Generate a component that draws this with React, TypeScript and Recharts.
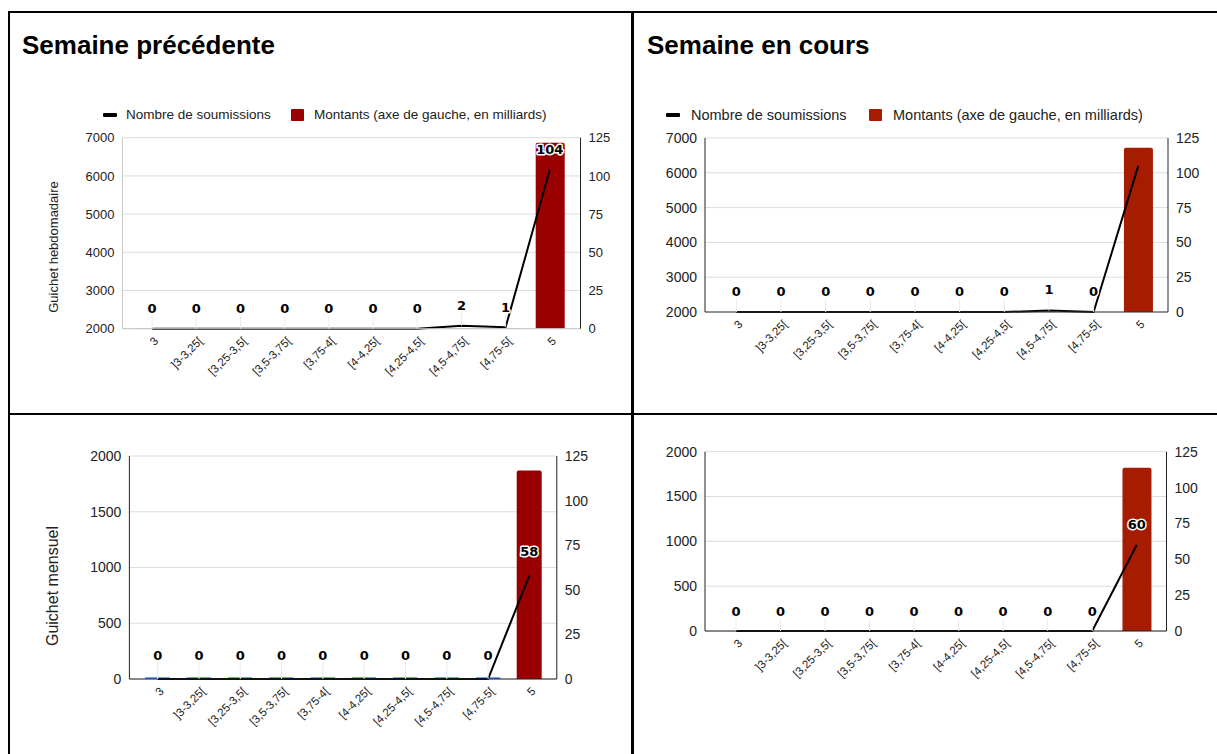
import React from "react";
import {
  ComposedChart,
  Bar,
  Line,
  XAxis,
  YAxis,
  CartesianGrid,
  Cell,
  LabelList,
} from "recharts";

// categories (taux proposés)
const categories = [
  "3",
  "]3-3,25[",
  "[3,25-3,5[",
  "[3,5-3,75[",
  "[3,75-4[",
  "[4-4,25[",
  "[4,25-4,5[",
  "[4,5-4,75[",
  "[4,75-5[",
  "5",
];

// Guichet hebdomadaire
const weekPrevCount = [0, 0, 0, 0, 0, 0, 0, 2, 1, 104];
const weekPrevAmount = [0, 0, 0, 0, 0, 0, 0, 0, 0, 6870];
const weekCurCount = [0, 0, 0, 0, 0, 0, 0, 1, 0, 105];
const weekCurAmount = [0, 0, 0, 0, 0, 0, 0, 0, 0, 6720];

// Guichet mensuel
const monthPrevCount = [0, 0, 0, 0, 0, 0, 0, 0, 0, 58];
const monthPrevAmount = [15, 15, 15, 15, 15, 15, 15, 15, 15, 1870];
const monthCurCount = [0, 0, 0, 0, 0, 0, 0, 0, 0, 60];
const monthCurAmount = [0, 0, 0, 0, 0, 0, 0, 0, 0, 1820];

const weeklyTicks = [2000, 3000, 4000, 5000, 6000, 7000];
const monthlyTicks = [0, 500, 1000, 1500, 2000];
const countTicks = [0, 25, 50, 75, 100, 125];

const legendCount = "Nombre de soumissions";
const legendAmount = "Montants (axe de gauche, en milliards)";

const FONT = "'Liberation Sans', Arial, sans-serif";

const XTick = (props: any) => {
  const { x, y, payload } = props;
  return (
    <text
      x={0}
      y={0}
      transform={`translate(${x + 7},${y + 5}) rotate(-45)`}
      textAnchor="end"
      fontSize={11.5}
      fontFamily={FONT}
      fill="#222"
    >
      {payload.value}
    </text>
  );
};

const makeLabel = (gap: number, hideLast: boolean) => (props: any) => {
  const { x, y, value, index } = props;
  const last = index === categories.length - 1;
  if (last && hideLast) return null;
  const ly = y - gap;
  return (
    <g>
      {!last && (
        <line x1={x} x2={x} y1={ly + 7} y2={y} stroke="#ececec" strokeWidth={1} />
      )}
      <text
        x={x}
        y={ly}
        textAnchor="middle"
        dominantBaseline="central"
        fontFamily="'DejaVu Sans', sans-serif"
        fontWeight="bold"
        fontSize={13}
        fill="#000"
        stroke="#fff"
        strokeWidth={3}
        strokeLinejoin="round"
        paintOrder="stroke"
      >
        {value}
      </text>
    </g>
  );
};

interface PanelProps {
  left: number;
  top: number;
  width: number;
  height: number;
  margin: { top: number; right: number; bottom: number; left: number };
  padding: { left: number; right: number };
  barSize: number;
  counts: number[];
  amounts: number[];
  leftTicks: number[];
  barColor: string;
  smallColor: string;
  labelGap: number;
  hideLast?: boolean;
  leftAxisColor: string;
  bottomAxisColor: string;
  tickFont: number;
}

function Panel(p: PanelProps) {
  const data = categories.map((c, i) => ({
    cat: c,
    count: p.counts[i],
    amount: p.amounts[i],
  }));
  const tick = { fontSize: p.tickFont, fill: "#222", fontFamily: FONT };
  return (
    <div style={{ position: "absolute", left: p.left, top: p.top }}>
      <ComposedChart width={p.width} height={p.height} data={data} margin={p.margin}>
        <CartesianGrid vertical={false} yAxisId="left" stroke="#dcdcdc" />
        <XAxis
          dataKey="cat"
          interval={0}
          tick={<XTick />}
          tickLine={false}
          height={60}
          padding={p.padding}
          stroke={p.bottomAxisColor}
        />
        <YAxis
          yAxisId="left"
          domain={[p.leftTicks[0], p.leftTicks[p.leftTicks.length - 1]]}
          ticks={p.leftTicks}
          allowDataOverflow
          width={60}
          tickLine={false}
          tick={tick}
          stroke={p.leftAxisColor}
        />
        <YAxis
          yAxisId="right"
          orientation="right"
          domain={[0, 125]}
          ticks={countTicks}
          width={40}
          tickLine={false}
          tick={tick}
          stroke="#222"
        />
        <Bar
          yAxisId="left"
          dataKey="amount"
          barSize={p.barSize}
          radius={[2, 2, 0, 0]}
          isAnimationActive={false}
        >
          {data.map((d, i) => (
            <Cell
              key={d.cat}
              fill={i === data.length - 1 ? p.barColor : p.smallColor}
            />
          ))}
        </Bar>
        <Line
          yAxisId="right"
          dataKey="count"
          stroke="#000"
          strokeWidth={2}
          dot={false}
          activeDot={false}
          isAnimationActive={false}
        >
          <LabelList dataKey="count" content={makeLabel(p.labelGap, !!p.hideLast)} />
        </Line>
      </ComposedChart>
    </div>
  );
}

function LegendRow(props: {
  x: number[];
  top: number;
  color: string;
  fontSize: number;
}) {
  const { x, top, color, fontSize } = props;
  const text: React.CSSProperties = {
    position: "absolute",
    top: top - 10,
    height: 20,
    lineHeight: "20px",
    fontSize,
    color: "#222",
    whiteSpace: "nowrap",
  };
  return (
    <>
      <div style={{ position: "absolute", left: x[0], top: top - 2, width: 14, height: 4, background: "#000", borderRadius: 1 }} />
      <div style={{ ...text, left: x[1] }}>{legendCount}</div>
      <div style={{ position: "absolute", left: x[2], top: top - 6, width: 13, height: 12, background: color, borderRadius: 1 }} />
      <div style={{ ...text, left: x[3] }}>{legendAmount}</div>
    </>
  );
}

const border = "#000";

export default function App() {
  return (
    <div
      style={{
        position: "absolute",
        left: 0,
        top: 0,
        width: 1217,
        height: 754,
        overflow: "hidden",
        background: "#fff",
        fontFamily: FONT,
      }}
    >
      {/* table borders */}
      <div style={{ position: "absolute", left: 7.5, top: 11, width: 1210, height: 2, background: border }} />
      <div style={{ position: "absolute", left: 7.5, top: 11, width: 2.2, height: 743, background: border }} />
      <div style={{ position: "absolute", left: 631.3, top: 11, width: 2.4, height: 743, background: border }} />
      <div style={{ position: "absolute", left: 7.5, top: 412.8, width: 1210, height: 2.4, background: border }} />

      <div style={{ position: "absolute", left: 22, top: 28, fontSize: 26, fontWeight: "bold", color: "#000", lineHeight: "34px" }}>
        Semaine précédente
      </div>
      <div style={{ position: "absolute", left: 647, top: 28, fontSize: 26, fontWeight: "bold", color: "#000", lineHeight: "34px" }}>
        Semaine en cours
      </div>

      <LegendRow x={[103, 126, 291, 314]} top={115} color="#990000" fontSize={13.5} />
      <LegendRow x={[666, 691, 869, 893]} top={115} color="#a61c00" fontSize={14.5} />

      <div
        style={{
          position: "absolute",
          left: 53,
          top: 247,
          fontSize: 13,
          color: "#222",
          whiteSpace: "nowrap",
          transform: "translate(-50%, -50%) rotate(-90deg)",
        }}
      >
        Guichet hebdomadaire
      </div>
      <div
        style={{
          position: "absolute",
          left: 53,
          top: 586,
          fontSize: 16,
          color: "#222",
          whiteSpace: "nowrap",
          transform: "translate(-50%, -50%) rotate(-90deg)",
        }}
      >
        Guichet mensuel
      </div>

      <Panel
        left={0}
        top={100}
        width={631}
        height={300}
        margin={{ top: 37.7, right: 10.5, bottom: 11.3, left: 62.5 }}
        padding={{ left: 7.5, right: 8.6 }}
        barSize={29}
        counts={weekPrevCount}
        amounts={weekPrevAmount}
        leftTicks={weeklyTicks}
        barColor="#990000"
        smallColor="#990000"
        labelGap={20}
        leftAxisColor="#c8c8c8"
        bottomAxisColor="#c8c8c8"
        tickFont={13}
      />
      <Panel
        left={631}
        top={100}
        width={586}
        height={300}
        margin={{ top: 38, right: 9, bottom: 28, left: 14 }}
        padding={{ left: 9, right: 7.4 }}
        barSize={29}
        counts={weekCurCount}
        amounts={weekCurAmount}
        leftTicks={weeklyTicks}
        barColor="#a61c00"
        smallColor="#a61c00"
        labelGap={21}
        hideLast
        leftAxisColor="#222"
        bottomAxisColor="#333"
        tickFont={14}
      />
      <Panel
        left={0}
        top={420}
        width={631}
        height={334}
        margin={{ top: 36, right: 34.2, bottom: 15, left: 69.4 }}
        padding={{ left: 7.6, right: 6.8 }}
        barSize={25}
        counts={monthPrevCount}
        amounts={monthPrevAmount}
        leftTicks={monthlyTicks}
        barColor="#990000"
        smallColor="#4285f4"
        labelGap={24}
        leftAxisColor="#222"
        bottomAxisColor="#222"
        tickFont={14}
      />
      <Panel
        left={631}
        top={420}
        width={586}
        height={334}
        margin={{ top: 31.7, right: 10.5, bottom: 63, left: 14 }}
        padding={{ left: 8.7, right: 7.5 }}
        barSize={29}
        counts={monthCurCount}
        amounts={monthCurAmount}
        leftTicks={monthlyTicks}
        barColor="#a61c00"
        smallColor="#a61c00"
        labelGap={20}
        leftAxisColor="#222"
        bottomAxisColor="#222"
        tickFont={14}
      />
    </div>
  );
}
